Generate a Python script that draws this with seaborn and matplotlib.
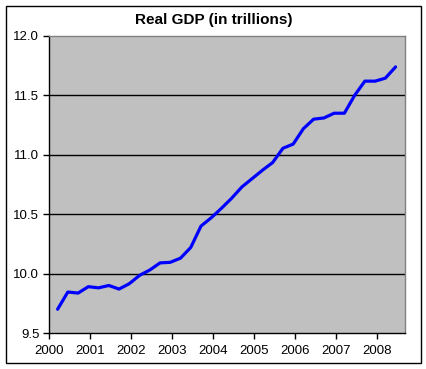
import seaborn as sns
import matplotlib.pyplot as plt
import matplotlib.patches as patches
import pandas as pd
import numpy as np

# quarterly real GDP, trillions (2000 Q1 .. 2008 Q2)
gdp = [9.70, 9.845, 9.836, 9.89, 9.88, 9.90, 9.87, 9.915,
       9.985, 10.03, 10.09, 10.095, 10.13, 10.22, 10.40, 10.47,
       10.55, 10.635, 10.73, 10.80, 10.87, 10.935, 11.055, 11.09,
       11.22, 11.30, 11.31, 11.35, 11.35, 11.50, 11.62, 11.62,
       11.645, 11.74]
start_year = 2000
years = list(range(2000, 2009))
yticks = [9.5, 10.0, 10.5, 11.0, 11.5, 12.0]

# quarter positions in fractional years
quarter = [start_year + 0.21 + 0.25 * i for i in range(len(gdp))]
df = pd.DataFrame({"date": quarter, "gdp": gdp})

sns.set_style("white")
plt.rcParams["font.family"] = ["Liberation Sans", "DejaVu Sans"]
plt.rcParams["text.color"] = "black"
plt.rcParams["xtick.color"] = "black"
plt.rcParams["ytick.color"] = "black"

fig = plt.figure(figsize=(4.27, 3.69), dpi=100)
ax = fig.add_axes([49 / 427, 1 - 333 / 369, (405 - 49) / 427, (333 - 36) / 369])
ax.set_facecolor("#C0C0C0")

for y in yticks[1:-1]:
    ax.axhline(y, color="black", lw=1.0, zorder=1)

sns.lineplot(data=df, x="date", y="gdp", color="#0000FF", lw=2.3, ax=ax, zorder=3)

ax.set_xlim(2000, 2008.69)
ax.set_ylim(9.5, 12.0)
ax.set_xticks(years)
ax.set_xticklabels([str(y) for y in years], fontsize=9.5)
ax.set_yticks(yticks)
ax.set_yticklabels([f"{y:.1f}" for y in yticks], fontsize=9.5)
ax.tick_params(axis="both", direction="out", length=4, width=1,
               bottom=True, left=True)
ax.tick_params(axis="x", pad=5)
ax.tick_params(axis="y", pad=3)
ax.set_xlabel("")
ax.set_ylabel("")

for side in ["top", "right"]:
    ax.spines[side].set_color("#808080")
    ax.spines[side].set_linewidth(1.0)
for side in ["left", "bottom"]:
    ax.spines[side].set_color("black")
    ax.spines[side].set_linewidth(1.0)

fig.text(0.5, 1 - 20 / 369, "Real GDP (in trillions)", ha="center", va="center",
         fontsize=11, fontweight="bold", color="black")

# outer chart border
fig.patches.append(patches.Rectangle((6 / 427, 6 / 369), 415 / 427, 357 / 369,
                                     transform=fig.transFigure, fill=False,
                                     edgecolor="black", lw=1.0))

fig.savefig("out.png", dpi=100)
plt.close(fig)
